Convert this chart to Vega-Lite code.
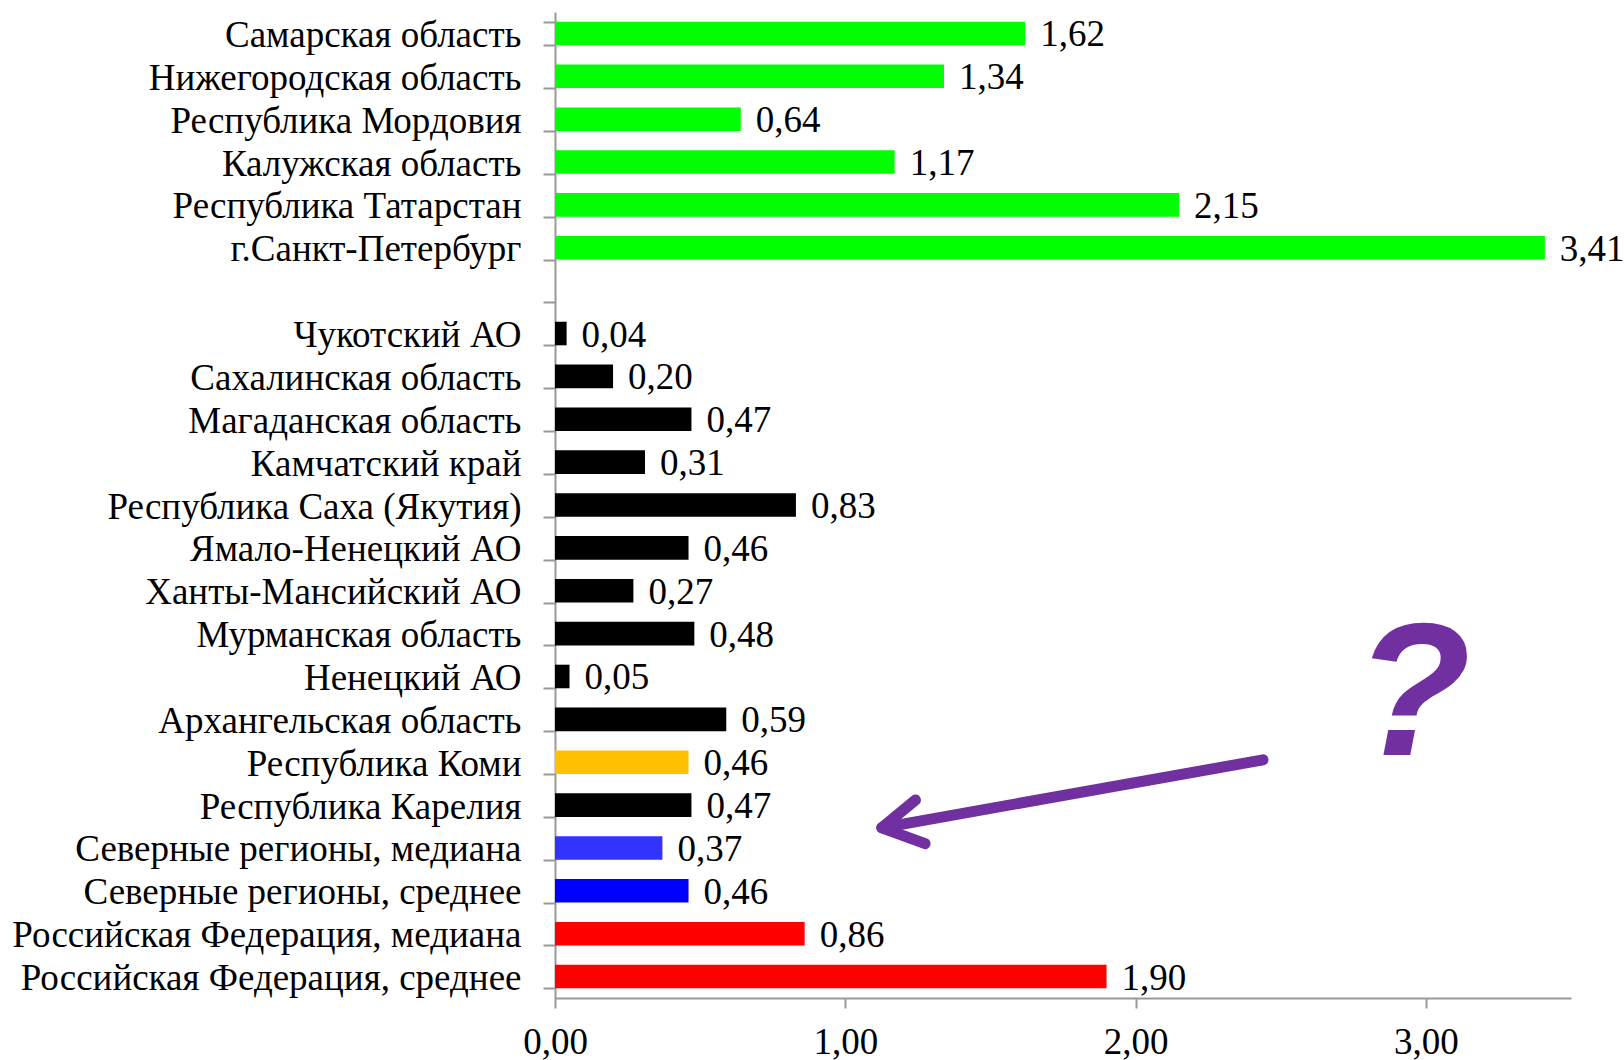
{
  "$schema": "https://vega.github.io/schema/vega-lite/v6.json",
  "width": 1016,
  "height": 986,
  "autosize": "none",
  "padding": {"left": 555, "top": 12, "right": 53, "bottom": 62},
  "background": "white",
  "config": {
    "view": {"stroke": null},
    "locale": {"number": {"decimal": ",", "thousands": "\u00a0", "grouping": [3], "currency": ["", " ₽"]}}
  },
  "datasets": {
    "bars": [
      {"region": "Самарская область", "value": 1.62, "group": "Сравнение"},
      {"region": "Нижегородская область", "value": 1.34, "group": "Сравнение"},
      {"region": "Республика Мордовия", "value": 0.64, "group": "Сравнение"},
      {"region": "Калужская область", "value": 1.17, "group": "Сравнение"},
      {"region": "Республика Татарстан", "value": 2.15, "group": "Сравнение"},
      {"region": "г.Санкт-Петербург", "value": 3.41, "group": "Сравнение"},
      {"region": "Чукотский АО", "value": 0.04, "group": "Север"},
      {"region": "Сахалинская область", "value": 0.20, "group": "Север"},
      {"region": "Магаданская область", "value": 0.47, "group": "Север"},
      {"region": "Камчатский край", "value": 0.31, "group": "Север"},
      {"region": "Республика Саха (Якутия)", "value": 0.83, "group": "Север"},
      {"region": "Ямало-Ненецкий АО", "value": 0.46, "group": "Север"},
      {"region": "Ханты-Мансийский АО", "value": 0.27, "group": "Север"},
      {"region": "Мурманская область", "value": 0.48, "group": "Север"},
      {"region": "Ненецкий АО", "value": 0.05, "group": "Север"},
      {"region": "Архангельская область", "value": 0.59, "group": "Север"},
      {"region": "Республика Коми", "value": 0.46, "group": "Коми"},
      {"region": "Республика Карелия", "value": 0.47, "group": "Север"},
      {"region": "Северные регионы, медиана", "value": 0.37, "group": "Север медиана"},
      {"region": "Северные регионы, среднее", "value": 0.46, "group": "Север среднее"},
      {"region": "Российская Федерация, медиана", "value": 0.86, "group": "РФ"},
      {"region": "Российская Федерация, среднее", "value": 1.90, "group": "РФ"}
    ],
    "arrow": [
      {"part": "shaft", "xa": 2.439, "xb": 1.126, "sa": 17.445, "sb": 19.03},
      {"part": "upper", "xa": 1.2418, "xb": 1.126, "sa": 18.38, "sb": 19.03},
      {"part": "lower", "xa": 1.275, "xb": 1.126, "sa": 19.40, "sb": 19.03}
    ],
    "mark": [
      {"label": "?", "x": 2.955, "s": 17.32}
    ]
  },
  "layer": [
    {
      "data": {"name": "bars"},
      "encoding": {
        "y": {
          "field": "region",
          "type": "nominal",
          "scale": {
            "domain": [
              "Самарская область", "Нижегородская область", "Республика Мордовия", "Калужская область",
              "Республика Татарстан", "г.Санкт-Петербург", " ",
              "Чукотский АО", "Сахалинская область", "Магаданская область", "Камчатский край",
              "Республика Саха (Якутия)", "Ямало-Ненецкий АО", "Ханты-Мансийский АО", "Мурманская область",
              "Ненецкий АО", "Архангельская область", "Республика Коми", "Республика Карелия",
              "Северные регионы, медиана", "Северные регионы, среднее",
              "Российская Федерация, медиана", "Российская Федерация, среднее"
            ],
            "paddingInner": 0.45,
            "paddingOuter": 0.225
          },
          "axis": {
            "title": null,
            "labelFont": "Liberation Serif",
            "labelFontSize": 37,
            "labelColor": "black",
            "labelLimit": 0,
            "labelPadding": 22,
            "labelOffset": 2,
            "tickSize": 12,
            "tickBand": "extent",
            "tickColor": "#999999",
            "tickWidth": 2,
            "domainColor": "#999999",
            "domainWidth": 2
          }
        },
        "x": {
          "field": "value",
          "type": "quantitative",
          "scale": {"domain": [0, 3.5], "nice": false},
          "axis": {
            "title": null,
            "values": [0, 1, 2, 3],
            "format": ".2f",
            "grid": false,
            "labelFont": "Liberation Serif",
            "labelFontSize": 37,
            "labelColor": "black",
            "labelPadding": 16,
            "labelFlush": false,
            "tickSize": 10,
            "tickColor": "#999999",
            "tickWidth": 2,
            "domainColor": "#999999",
            "domainWidth": 2
          }
        }
      },
      "layer": [
        {
          "mark": {"type": "bar"},
          "encoding": {
            "color": {
              "field": "group",
              "type": "nominal",
              "legend": null,
              "scale": {
                "domain": ["Сравнение", "Север", "Коми", "Север медиана", "Север среднее", "РФ"],
                "range": ["#00FF00", "#000000", "#FFC000", "#3333FF", "#0000FF", "#FF0000"]
              }
            }
          }
        },
        {
          "mark": {"type": "text", "align": "left", "baseline": "middle", "dx": 15, "dy": 2, "font": "Liberation Serif", "fontSize": 37, "color": "black"},
          "encoding": {
            "text": {"field": "value", "type": "quantitative", "format": ".2f"}
          }
        }
      ]
    },
    {
      "data": {"name": "arrow"},
      "mark": {"type": "rule", "color": "#7030A0", "strokeWidth": 11, "strokeCap": "round"},
      "encoding": {
        "x": {"field": "xa", "type": "quantitative"},
        "x2": {"field": "xb"},
        "y": {"field": "sa", "type": "quantitative", "scale": {"domain": [0, 23], "reverse": true, "nice": false, "zero": false}, "axis": null},
        "y2": {"field": "sb"}
      }
    },
    {
      "data": {"name": "mark"},
      "mark": {"type": "text", "align": "center", "baseline": "alphabetic", "font": "Liberation Sans", "fontWeight": "bold", "fontStyle": "italic", "fontSize": 190, "color": "#7030A0"},
      "encoding": {
        "x": {"field": "x", "type": "quantitative"},
        "y": {"field": "s", "type": "quantitative", "scale": {"domain": [0, 23], "reverse": true, "nice": false, "zero": false}, "axis": null},
        "text": {"field": "label"}
      }
    }
  ],
  "resolve": {"scale": {"y": "independent"}, "axis": {"y": "independent"}}
}
